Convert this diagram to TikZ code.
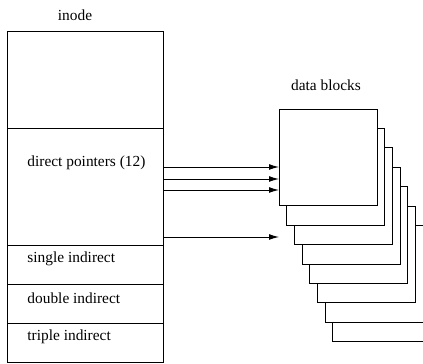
\documentclass[tikz,border=0pt]{standalone}
\usepackage{fontspec}
\setmainfont{Liberation Serif}
\usetikzlibrary{arrows.meta,positioning,calc}

\begin{document}
\begin{tikzpicture}[x=0.65pt,y=-0.65pt,font=\fontsize{10}{12}\selectfont,line width=0.6pt,
  row/.style={draw,minimum width=101.4pt,anchor=north west,inner sep=0pt,outer sep=0pt},
  blk/.style={draw,fill=white,minimum width=63.7pt,minimum height=63pt,anchor=north west,inner sep=0pt,outer sep=0pt},
  lab/.style={anchor=west,inner sep=0pt},
  ptr/.style={-{Latex[length=6.5pt,width=3.8pt]}}]
\useasboundingbox (0,0) rectangle (423,364);
\clip (0,0) rectangle (423,364);
% inode table
\node[row,minimum height=63.05pt] (meta) at (7,31){};
\node[row,minimum height=76.05pt] (direct) at (7,128){};
\node[row,minimum height=25.35pt] (single) at (7,245){};
\node[row,minimum height=25.35pt] (double) at (7,284){};
\node[row,minimum height=25.35pt] (triple) at (7,323){};
\node[inner sep=0pt] (title) at (75,15){inode};
\node[lab] (tdirect) at (27,163){direct pointers (12)};
\node[lab] (tsingle) at (27,259){single indirect};
\node[lab] (tdouble) at (27,298){double indirect};
\node[lab] (ttriple) at (27,337){triple indirect};
% stack of data blocks, back to front
\foreach \i in {7,6,...,0}{
\node[blk] (blk\i) at ({279+7.7*\i},{109+19.4*\i}){};
}
\node[inner sep=0pt] (tblocks) at (326,85){data blocks};
% pointers
\foreach \y in {167,179,190,237}{
\draw[ptr] (direct.east |- 0,\y) -- (blk0.west |- 0,\y);
}
\end{tikzpicture}
\end{document}
